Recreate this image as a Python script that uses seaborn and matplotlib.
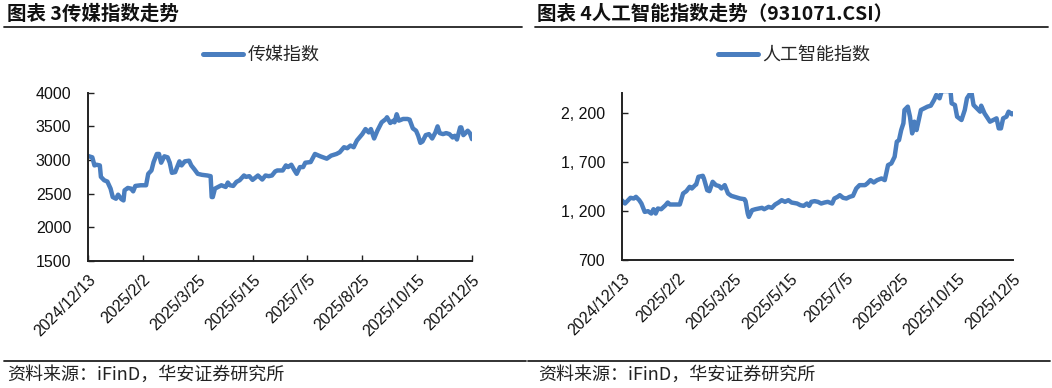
import matplotlib
matplotlib.use("Agg")
import matplotlib.pyplot as plt
import seaborn as sns
import pandas as pd
from matplotlib.lines import Line2D

# ---------------- data ----------------
media_dates = ["2024-12-13","2024-12-15","2024-12-17","2024-12-19","2024-12-21","2024-12-24","2024-12-25","2024-12-28","2024-12-31",
"2025-01-03","2025-01-05","2025-01-08","2025-01-10","2025-01-13","2025-01-15","2025-01-16","2025-01-19","2025-01-22","2025-01-24","2025-01-26","2025-01-31",
"2025-02-05","2025-02-07","2025-02-10","2025-02-12","2025-02-15","2025-02-17","2025-02-19","2025-02-22","2025-02-25","2025-02-27",
"2025-03-01","2025-03-04","2025-03-08","2025-03-10","2025-03-13","2025-03-17","2025-03-19","2025-03-22","2025-03-25","2025-03-29",
"2025-04-03","2025-04-06","2025-04-07","2025-04-08","2025-04-10","2025-04-13","2025-04-16","2025-04-20","2025-04-22","2025-04-24","2025-04-27","2025-04-30",
"2025-05-03","2025-05-07","2025-05-09","2025-05-12","2025-05-15","2025-05-20","2025-05-24","2025-05-27","2025-05-30",
"2025-06-02","2025-06-05","2025-06-07","2025-06-12","2025-06-15","2025-06-17","2025-06-20","2025-06-23","2025-06-25","2025-06-28",
"2025-07-01","2025-07-03","2025-07-08","2025-07-12","2025-07-17","2025-07-23","2025-07-27",
"2025-08-01","2025-08-04","2025-08-08","2025-08-11","2025-08-14","2025-08-17","2025-08-20","2025-08-25","2025-08-28","2025-08-31",
"2025-09-02","2025-09-05","2025-09-08","2025-09-12","2025-09-16","2025-09-17","2025-09-20","2025-09-23","2025-09-24","2025-09-26","2025-09-28",
"2025-10-02","2025-10-06","2025-10-08","2025-10-11","2025-10-14","2025-10-16","2025-10-18","2025-10-20","2025-10-23","2025-10-26","2025-10-29",
"2025-11-01","2025-11-03","2025-11-05","2025-11-08","2025-11-11","2025-11-14","2025-11-17","2025-11-19","2025-11-21","2025-11-24","2025-11-25","2025-11-27","2025-11-29",
"2025-12-01","2025-12-03","2025-12-05"]
media_values = [3060,3050,3040,2920,2930,2920,2750,2700,2680,
2575,2450,2425,2485,2420,2400,2550,2585,2575,2535,2615,2625,
2625,2795,2845,2970,3090,3090,2960,3055,3040,2960,
2810,2820,2980,2920,2980,2990,2920,2860,2795,2780,
2770,2760,2450,2450,2575,2600,2625,2600,2665,2625,2615,2675,
2700,2770,2750,2760,2705,2770,2710,2770,2760,
2770,2830,2845,2845,2920,2895,2930,2845,2795,2895,
2895,2960,2970,3090,3055,3020,3065,
3090,3115,3190,3175,3215,3190,3290,3385,3460,3410,
3460,3320,3435,3560,3610,3635,3550,3585,3560,3680,3585,
3610,3610,3600,3470,3435,3360,3255,3275,3370,3385,3320,
3410,3500,3400,3385,3400,3385,3335,3360,3305,3485,3485,3370,3400,
3435,3400,3310]

ai_dates = ["2024-12-13","2024-12-16","2024-12-21","2024-12-24","2024-12-26","2024-12-29","2024-12-31",
"2025-01-03","2025-01-06","2025-01-09","2025-01-11","2025-01-13","2025-01-15","2025-01-18","2025-01-22","2025-01-24","2025-01-26",
"2025-02-04","2025-02-07","2025-02-10","2025-02-13","2025-02-15","2025-02-18","2025-02-19","2025-02-21","2025-02-25","2025-02-26",
"2025-03-01","2025-03-03","2025-03-06","2025-03-09","2025-03-12","2025-03-14","2025-03-17","2025-03-20","2025-03-23","2025-03-26","2025-03-31",
"2025-04-04","2025-04-05","2025-04-07","2025-04-08","2025-04-11","2025-04-14","2025-04-20","2025-04-22","2025-04-26","2025-04-29",
"2025-05-02","2025-05-05","2025-05-08","2025-05-11","2025-05-14","2025-05-17","2025-05-22","2025-05-25","2025-05-28","2025-05-31",
"2025-06-02","2025-06-04","2025-06-07","2025-06-10","2025-06-13","2025-06-16","2025-06-19","2025-06-23","2025-06-25","2025-06-28","2025-06-30",
"2025-07-03","2025-07-06","2025-07-09","2025-07-12","2025-07-15","2025-07-18","2025-07-23","2025-07-25","2025-07-28","2025-07-31",
"2025-08-03","2025-08-07","2025-08-10","2025-08-13","2025-08-16","2025-08-19","2025-08-21","2025-08-23","2025-08-25","2025-08-27","2025-08-28","2025-08-31",
"2025-09-02","2025-09-04","2025-09-06","2025-09-08","2025-09-10","2025-09-12","2025-09-15","2025-09-18","2025-09-21","2025-09-24","2025-09-26","2025-09-29",
"2025-10-01","2025-10-09","2025-10-10","2025-10-13","2025-10-15","2025-10-17","2025-10-19","2025-10-22","2025-10-24","2025-10-26","2025-10-28","2025-10-30",
"2025-11-02","2025-11-05","2025-11-06","2025-11-09","2025-11-11","2025-11-14","2025-11-17","2025-11-20","2025-11-22","2025-11-24","2025-11-26","2025-11-29",
"2025-12-01","2025-12-04","2025-12-05"]
ai_values = [1309,1275,1333,1326,1343,1309,1275,
1190,1197,1173,1217,1173,1224,1217,1258,1285,1265,
1265,1377,1401,1445,1428,1462,1469,1547,1557,1530,
1411,1401,1496,1462,1452,1428,1462,1377,1353,1343,1326,
1319,1300,1173,1139,1207,1217,1231,1217,1241,1231,
1265,1285,1309,1292,1309,1285,1275,1258,1251,1275,
1251,1292,1299,1292,1275,1285,1292,1275,1326,1343,1360,
1333,1326,1343,1353,1428,1462,1462,1479,1513,1489,
1513,1530,1513,1666,1683,1751,1904,1921,2023,2091,2227,2261,
2159,1989,2108,2023,2125,2227,2244,2261,2271,2329,2380,2346,
2420,2420,2295,2278,2159,2142,2125,2227,2346,2380,2414,2278,
2244,2210,2271,2193,2159,2108,2125,2142,2040,2040,2142,2159,
2210,2183,2193]

tick_dates = ["2024-12-13","2025-02-02","2025-03-25","2025-05-15","2025-07-05","2025-08-25","2025-10-15","2025-12-05"]
tick_labels = ["2024/12/13","2025/2/2","2025/3/25","2025/5/15","2025/7/5","2025/8/25","2025/10/15","2025/12/5"]

media_yticks = [1500, 2000, 2500, 3000, 3500, 4000]
media_ylabels = ["1500", "2000", "2500", "3000", "3500", "4000"]
ai_yticks = [700, 1200, 1700, 2200]
ai_ylabels = ["700", "1, 200", "1, 700", "2, 200"]

title_left = "图表 3传媒指数走势"
title_right = "图表 4人工智能指数走势（931071.CSI）"
legend_left = "传媒指数"
legend_right = "人工智能指数"
source_text = "资料来源：iFinD，华安证券研究所"

# ---------------- style ----------------
sns.set_theme(style="white")
plt.rcParams["font.family"] = ["Liberation Sans", "Noto Sans CJK SC", "DejaVu Sans"]
CJK = ["Noto Sans CJK SC", "DejaVu Sans"]
LINE_COLOR = "#4A7EBF"

W, H = 1052, 388
fig = plt.figure(figsize=(W / 100, H / 100), dpi=100)
fig.patch.set_facecolor("white")


def fx(px):
    return px / W


def fy(py):
    return 1 - py / H


def make_axes(x0, x1, ytop, ybot):
    return fig.add_axes([fx(x0), fy(ybot), fx(x1 - x0), (ybot - ytop) / H])


def style_axes(ax, yticks, ylabels, ylim, xtick_len):
    ax.set_ylim(*ylim)
    ax.set_xlim(pd.Timestamp(tick_dates[0]), pd.Timestamp(tick_dates[-1]))
    ax.set_yticks(yticks)
    ax.set_yticklabels(ylabels, fontsize=11.5, color="#111111")
    ax.set_xticks(pd.to_datetime(tick_dates))
    ax.set_xticklabels(tick_labels, rotation=45, ha="right", rotation_mode="anchor",
                       fontsize=11.5, color="#111111")
    for s in ["top", "right"]:
        ax.spines[s].set_visible(False)
    for s in ["left", "bottom"]:
        ax.spines[s].set_color("#222222")
        ax.spines[s].set_linewidth(1.4)
    ax.tick_params(axis="y", direction="in", length=4, width=1, color="#222222", pad=12, left=True)
    ax.tick_params(axis="x", direction="in", length=xtick_len, width=1, color="#222222", pad=8, bottom=True)
    ax.set_xlabel("")
    ax.set_ylabel("")
    ax.grid(False)
    ax.set_facecolor("white")


# left panel
df_media = pd.DataFrame({"date": pd.to_datetime(media_dates), "value": media_values})
axL = make_axes(88, 472, 92.7, 261)
sns.lineplot(data=df_media, x="date", y="value", ax=axL, color=LINE_COLOR, linewidth=3.2,
             legend=False)
style_axes(axL, media_yticks, media_ylabels, (1500, 4000), 4)

# right panel
df_ai = pd.DataFrame({"date": pd.to_datetime(ai_dates), "value": ai_values})
axR = make_axes(621.7, 1013, 93, 260)
sns.lineplot(data=df_ai, x="date", y="value", ax=axR, color=LINE_COLOR, linewidth=3.2,
             legend=False)
style_axes(axR, ai_yticks, ai_ylabels, (700, 2400), 0)

# legends
for ax, label, x0 in [(axL, legend_left, 203), (axR, legend_right, 718)]:
    h = Line2D([], [], color=LINE_COLOR, linewidth=3.6, solid_capstyle="round")
    leg = ax.legend([h], [label], loc="center left", bbox_to_anchor=(fx(x0), fy(55)),
                    bbox_transform=fig.transFigure, frameon=False, borderpad=0,
                    borderaxespad=0, handlelength=2.2, handletextpad=0.25,
                    prop={"family": CJK, "size": 13})

# titles
fig.text(fx(7), fy(14), title_left, family=CJK, fontsize=14, fontweight="bold",
         va="center", ha="left", color="#111111")
fig.text(fx(537), fy(14), title_right, family=CJK, fontsize=14, fontweight="bold",
         va="center", ha="left", color="#111111")

# rules
for (xa, xb) in [(4, 522), (535, 1048)]:
    fig.add_artist(Line2D([fx(xa), fx(xb)], [fy(27), fy(27)], color="#222222", linewidth=1.3))
for (xa, xb) in [(4, 526), (528, 1050)]:
    fig.add_artist(Line2D([fx(xa), fx(xb)], [fy(361), fy(361)], color="#222222", linewidth=1.3))

# sources
fig.text(fx(7), fy(375), source_text, family=CJK, fontsize=13, va="center", ha="left",
         color="#222222")
fig.text(fx(538), fy(375), source_text, family=CJK, fontsize=13, va="center", ha="left",
         color="#222222")

fig.savefig("out.png", dpi=100, facecolor="white")
